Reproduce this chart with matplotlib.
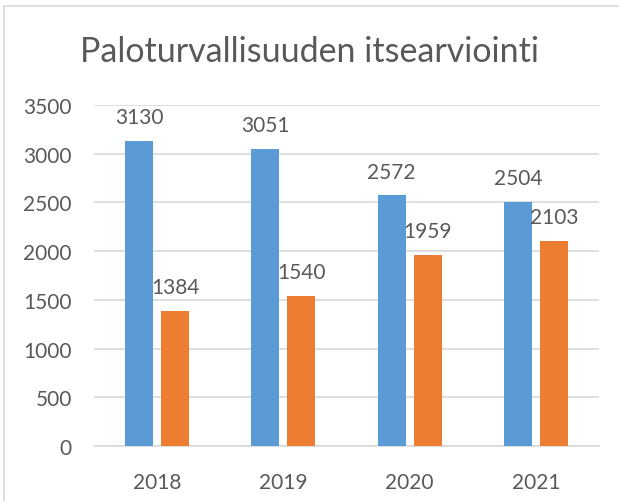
import matplotlib
matplotlib.use("Agg")
import matplotlib.pyplot as plt
import numpy as np
from matplotlib.patches import Rectangle

years = ["2018", "2019", "2020", "2021"]
series_a = [3130, 3051, 2572, 2504]
series_b = [1384, 1540, 1959, 2103]
yticks = [0, 500, 1000, 1500, 2000, 2500, 3000, 3500]

BLUE = "#5B9BD5"
ORANGE = "#ED7D31"
TEXT = "#595959"
GRID = "#D9D9D9"

plt.rcParams["font.family"] = ["Lato", "DejaVu Sans"]

W, H = 619, 502
fig = plt.figure(figsize=(W / 100, H / 100), dpi=100)
fig.patch.set_facecolor("white")

# outer chart frame
fig.add_artist(Rectangle((4 / W, -0.05), 1.2, 1 - 7 / H + 0.05, transform=fig.transFigure,
                         fill=False, edgecolor=GRID, linewidth=1.2))

ax = fig.add_axes([94 / W, 1 - 447 / H, (599 - 94) / W, (447 - 106) / H])
x = np.arange(len(years))
w = 0.222
off = 0.143
ax.bar(x - off, series_a, width=w, color=BLUE, zorder=3)
ax.bar(x + off, series_b, width=w, color=ORANGE, zorder=3)

for xi, v in zip(x - off, series_a):
    ax.annotate(str(v), (xi, v), xytext=(0, 10), textcoords="offset points",
                ha="center", va="bottom", fontsize=15, color=TEXT)
for xi, v in zip(x + off, series_b):
    ax.annotate(str(v), (xi, v), xytext=(0, 10), textcoords="offset points",
                ha="center", va="bottom", fontsize=15, color=TEXT)

ax.set_xlim(-0.5, len(years) - 0.5)
ax.set_ylim(0, 3500)
ax.set_yticks(yticks)
ax.set_xticks(x)
ax.set_xticklabels(years)
ax.yaxis.grid(True, color=GRID, linewidth=1.2, zorder=0)
ax.set_axisbelow(True)
for s in ax.spines.values():
    s.set_visible(False)
ax.spines["bottom"].set_visible(True)
ax.spines["bottom"].set_color(GRID)
ax.spines["bottom"].set_linewidth(1.2)
ax.tick_params(axis="both", length=0, labelsize=15, labelcolor=TEXT)
ax.tick_params(axis="y", pad=16)
ax.tick_params(axis="x", pad=19)

fig.text(0.5, 1 - 52 / H, "Paloturvallisuuden itsearviointi", ha="center", va="center",
         fontsize=24.5, color=TEXT)

fig.savefig("out.png", dpi=100, facecolor="white")
